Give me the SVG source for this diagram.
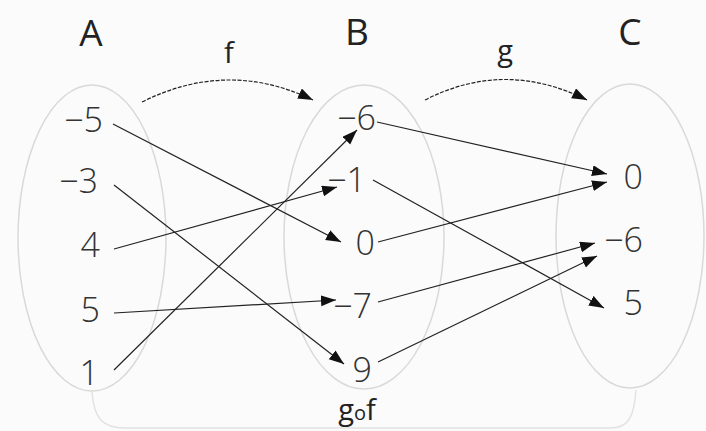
<svg xmlns="http://www.w3.org/2000/svg" width="706" height="431" viewBox="0 0 706 431">
<defs>
<style>
.set{fill:none;stroke:#d9d9d9;stroke-width:1.5}
.head{font-family:"Open Sans","DejaVu Sans",sans-serif;font-size:37px;fill:#222;text-anchor:middle}
.el{font-family:"Open Sans","DejaVu Sans",sans-serif;font-size:34px;font-weight:300;fill:#333;text-anchor:end}
.fn{font-family:"Open Sans","DejaVu Sans",sans-serif;font-size:29px;fill:#222;text-anchor:middle}
.ln{fill:none;stroke:#222;stroke-width:1.2;marker-end:url(#ah)}
.cv{fill:none;stroke:#222;stroke-width:1.2;stroke-dasharray:4 1.5;marker-end:url(#ah)}
</style>
<marker id="ah" markerUnits="userSpaceOnUse" markerWidth="16" markerHeight="12" refX="15" refY="5.5" orient="auto">
<path d="M0,0 L15,5.5 L0,11 z" fill="#111"/>
</marker>
</defs>
<rect width="706" height="431" fill="#fbfbfb"/>
<path d="M92,392 C94,420 104,428 125,428 L610,428 C628,428 634,418 636,390" fill="none" stroke="#e2e2e2" stroke-width="1.5"/>
<g id="set-A">
<ellipse class="set" cx="92" cy="238" rx="74" ry="153"/>
<text class="head" x="91" y="46">A</text>
<g id="a-m5"><text class="el" x="103" y="132">−5</text></g>
<g id="a-m3"><text class="el" x="98" y="193">−3</text></g>
<g id="a-4"><text class="el" x="100" y="257">4</text></g>
<g id="a-5"><text class="el" x="100" y="322">5</text></g>
<g id="a-1"><text class="el" x="99" y="385">1</text></g>
</g>
<g id="set-B">
<ellipse class="set" cx="364" cy="237" rx="80" ry="152"/>
<text class="head" x="357" y="45">B</text>
<g id="b-m6"><text class="el" x="376" y="130">−6</text></g>
<g id="b-m1"><text class="el" x="366" y="192">−1</text></g>
<g id="b-0"><text class="el" x="375" y="255">0</text></g>
<g id="b-m7"><text class="el" x="372" y="318">−7</text></g>
<g id="b-9"><text class="el" x="372" y="382">9</text></g>
</g>
<g id="set-C">
<ellipse class="set" cx="630" cy="236" rx="74" ry="152"/>
<text class="head" x="630" y="45">C</text>
<g id="c-0"><text class="el" x="643" y="189">0</text></g>
<g id="c-m6"><text class="el" x="643" y="252">−6</text></g>
<g id="c-5"><text class="el" x="643" y="315">5</text></g>
</g>
<g id="connectors">
<path class="cv" d="M142,102 Q228,59 313,100"/>
<path class="cv" d="M425,100 Q505,59 587,100"/>
<line class="ln" x1="113" y1="124" x2="341" y2="242"/>
<line class="ln" x1="114" y1="185" x2="344" y2="364"/>
<line class="ln" x1="114" y1="249" x2="337" y2="187"/>
<line class="ln" x1="114" y1="313" x2="336" y2="300"/>
<line class="ln" x1="114" y1="370" x2="357" y2="130"/>
<line class="ln" x1="377" y1="122" x2="607" y2="174"/>
<line class="ln" x1="373" y1="180" x2="604" y2="308"/>
<line class="ln" x1="378" y1="242" x2="607" y2="182"/>
<line class="ln" x1="378" y1="302" x2="595" y2="243"/>
<line class="ln" x1="378" y1="362" x2="597" y2="256"/>
</g>
<g id="labels">
<text class="fn" x="229" y="63">f</text>
<text class="fn" x="505" y="61">g</text>
<text class="fn" x="357" y="420">g<tspan font-size="20">o</tspan>f</text>
</g>
</svg>
